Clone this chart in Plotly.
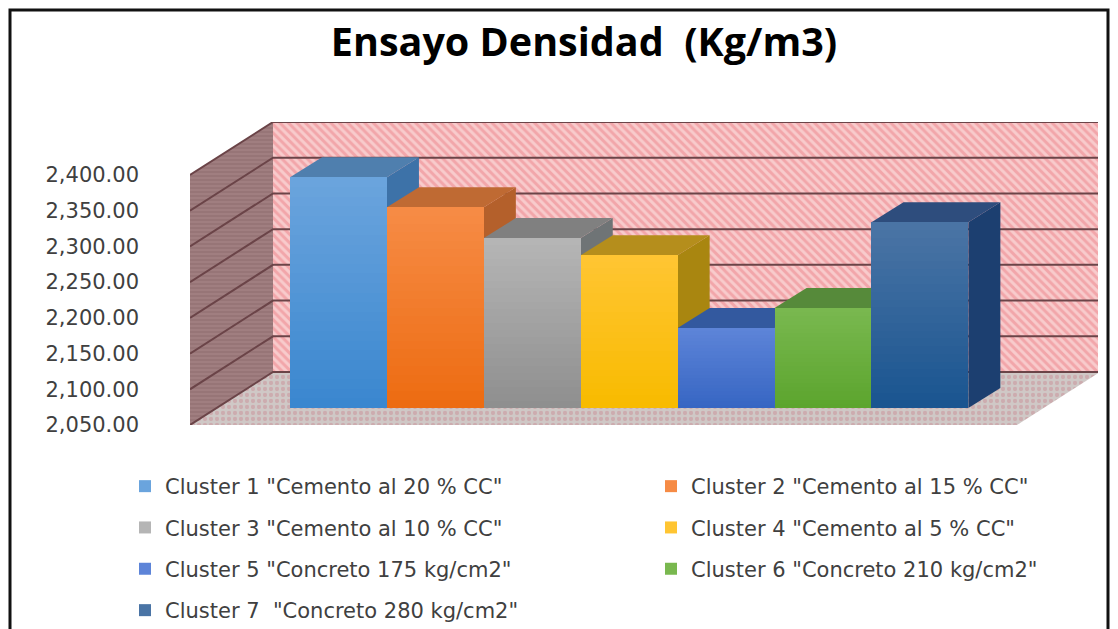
import numpy as np
import plotly.graph_objects as go

# values
clusters = ['Cluster 1 "Cemento al 20 % CC"', 'Cluster 2 "Cemento al 15 % CC"',
            'Cluster 3 "Cemento al 10 % CC"', 'Cluster 4 "Cemento al 5 % CC"',
            'Cluster 5 "Concreto 175 kg/cm2"', 'Cluster 6 "Concreto 210 kg/cm2"',
            'Cluster 7 \u00a0"Concreto 280 kg/cm2"']
densidad = [2373, 2331, 2288, 2264, 2162, 2190, 2310]
ticks = [2050, 2100, 2150, 2200, 2250, 2300, 2350, 2400]

color_top = ["#6aa4dd", "#f68b45", "#b5b5b5", "#ffc532", "#5d84d8", "#79b84f", "#4a74a5"]
color_bottom = ["#3b87cf", "#ed6c12", "#8f8f8f", "#f8bb00", "#3766c3", "#5ca52e", "#1a5590"]
color_cap = ["#4f7fae", "#bf6a33", "#808080", "#b58e1c", "#33599f", "#568a3a", "#2e4d7d"]
color_side = ["#3d72a8", "#b4602b", "#6f7476", "#a98610", "#2c4f91", "#4d7f33", "#1c3f70"]
legend_of = ["legend", "legend2", "legend", "legend2", "legend", "legend2", "legend3"]

# the page keeps its 8px body margin; the figure runs past the window bottom
PAGE = 8
W, H = 1118 - PAGE - 8, 670

# plot area in page pixels and the oblique projection of the Excel 3D chart
L, R, T, B = 190, 1098, 122, 425
PX_PER_CAT = 96.9
PX_PER_VAL = 250 / 350
x_range = [-(338.5 - L) / PX_PER_CAT, (R - 338.5) / PX_PER_CAT]
y_range = [2050, 2050 + (B - T) / PX_PER_VAL]

wall_dx, wall_dy = 83 / PX_PER_CAT, 53 / PX_PER_VAL      # depth of the whole box
bar_dx, bar_dy = 32 / PX_PER_CAT, 20 / PX_PER_VAL        # depth of one bar
lift = 17 / PX_PER_VAL                                   # bars stand inside the floor
x_left, x_right = x_range[0], x_range[0] + (1017 - L) / PX_PER_CAT
y_low, y_high = ticks[0], ticks[-1]


def px_x(p):
    return (p - PAGE) / W


def px_y(p):
    return 1 - (p - PAGE) / H


def mix(c1, c2, t):
    a = [int(c1[i:i + 2], 16) for i in (1, 3, 5)]
    b = [int(c2[i:i + 2], 16) for i in (1, 3, 5)]
    return "rgb(%d,%d,%d)" % tuple(round(p + (q - p) * t) for p, q in zip(a, b))


def face(xs, ys, **kw):
    return go.Scatter(x=xs, y=ys, mode="lines", fill="toself", line=dict(width=0),
                      hoverinfo="skip", showlegend=False, **kw)


fig = go.Figure()

# back wall
fig.add_trace(face(
    [x_left + wall_dx, x_right + wall_dx, x_right + wall_dx, x_left + wall_dx],
    [y_low + wall_dy, y_low + wall_dy, y_high + wall_dy, y_high + wall_dy],
    fillpattern=dict(shape="\\", bgcolor="#f2a6aa", fgcolor="#fdf0ee", size=6, solidity=0.5),
))
# floor
fig.add_trace(face(
    [x_left, x_right, x_right + wall_dx, x_left + wall_dx],
    [y_low, y_low, y_low + wall_dy, y_low + wall_dy],
    fillpattern=dict(shape=".", bgcolor="#cfc8c6", fgcolor="#c98f98", size=6, solidity=0.4),
))
# left wall
fig.add_trace(face(
    [x_left, x_left + wall_dx, x_left + wall_dx, x_left],
    [y_low, y_low + wall_dy, y_high + wall_dy, y_high],
    fillpattern=dict(shape="-", bgcolor="#a07e80", fgcolor="#8a6668", size=4, solidity=0.4),
))

# gridlines: across the left wall, then along the back wall
for t in ticks:
    fig.add_trace(go.Scatter(
        x=[x_left, x_left + wall_dx, x_right + wall_dx],
        y=[t, t + wall_dy, t + wall_dy],
        mode="lines", line=dict(color="#6b4448", width=2),
        hoverinfo="skip", showlegend=False))

# tops and sides go under the fronts, left to right so the next bar covers the last one
for i, v in enumerate(densidad):
    top = v + lift
    x0, x1 = i - 0.5, i + 0.5
    fig.add_trace(face([x1, x1 + bar_dx, x1 + bar_dx, x1],
                       [y_low + lift, y_low + lift + bar_dy, top + bar_dy, top],
                       fillcolor=color_side[i]))
    fig.add_trace(face([x0, x1, x1 + bar_dx, x0 + bar_dx],
                       [top, top, top + bar_dy, top + bar_dy],
                       fillcolor=color_cap[i]))

# fronts: tall to short overlapping columns give the vertical gradient
N = 24
for i, v in enumerate(densidad):
    tops = np.linspace(v + lift, y_low + lift, N, endpoint=False)
    fig.add_trace(go.Bar(
        x=[i] * N, y=tops - (y_low + lift), base=y_low + lift, width=1,
        xaxis="x2", yaxis="y2",
        marker=dict(color=[mix(color_top[i], color_bottom[i], k / (N - 1)) for k in range(N)],
                    line=dict(width=0)),
        name=clusters[i], legendgroup=clusters[i], legend=legend_of[i],
        hoverinfo="skip",
    ))

legend_font = dict(family="DejaVu Sans", size=21, color="#404040")
legend_common = dict(font=legend_font, bgcolor="rgba(0,0,0,0)", tracegroupgap=11,
                     traceorder="grouped", xanchor="left", yanchor="top",
                     itemclick=False, itemdoubleclick=False)

x_dom = [px_x(L), px_x(R)]
y_dom = [px_y(B), px_y(T)]

fig.update_layout(
    width=W, height=H,
    # autoexpand off: the legends must not push the plot area up
    margin=dict(l=0, r=0, t=0, b=0, pad=0, autoexpand=False),
    paper_bgcolor="white", plot_bgcolor="white",
    barmode="overlay", bargap=0,
    title=dict(text="Ensayo Densidad \u00a0(Kg/m3)", x=px_x(584), xanchor="center",
               y=px_y(42), yanchor="middle",
               font=dict(family="Open Sans", size=39.5, color="black", weight="bold")),
    xaxis=dict(domain=x_dom, range=x_range, visible=False),
    yaxis=dict(domain=y_dom, range=y_range, tickvals=ticks, tickformat=",.2f", showgrid=False,
               zeroline=False, showline=False, ticks="", ticklabelstandoff=50,
               tickfont=dict(family="DejaVu Sans", size=21, color="#404040")),
    xaxis2=dict(domain=x_dom, range=x_range, overlaying="x", visible=False),
    yaxis2=dict(domain=y_dom, range=y_range, overlaying="y", visible=False),
    legend=dict(x=px_x(125), y=px_y(466), **legend_common),
    legend2=dict(x=px_x(651), y=px_y(466), **legend_common),
    legend3=dict(x=px_x(125), y=px_y(590), **legend_common),
    shapes=[dict(type="path", xref="paper", yref="paper",
                 path=f"M {px_x(10)} {px_y(H + PAGE)} L {px_x(10)} {px_y(10)} "
                      f"L {px_x(1108)} {px_y(10)} L {px_x(1108)} {px_y(H + PAGE)}",
                 line=dict(color="#111111", width=3))],
)

fig.write_html("out.html")
